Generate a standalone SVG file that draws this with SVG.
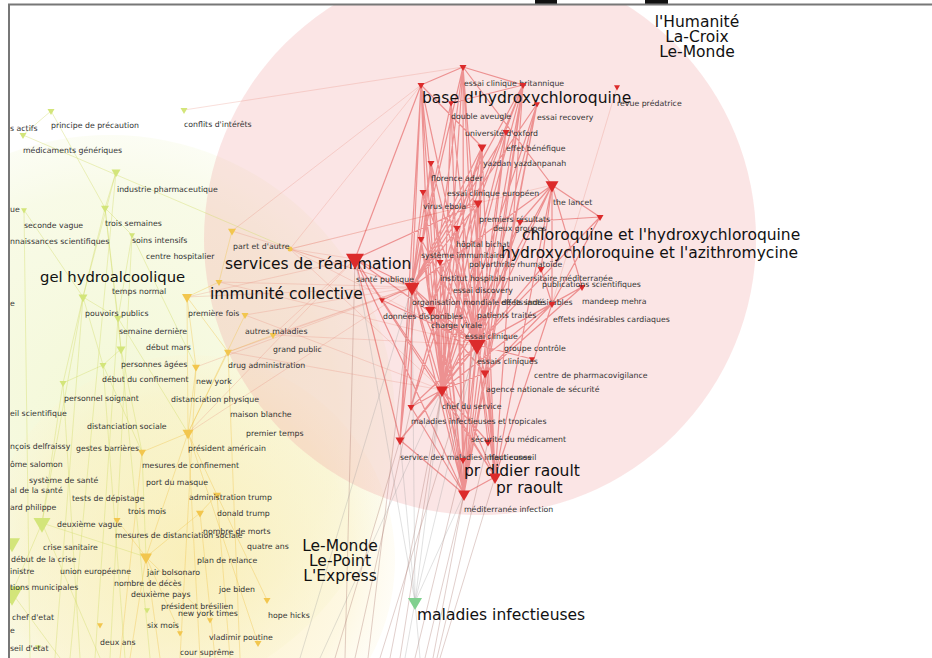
<svg xmlns="http://www.w3.org/2000/svg" xmlns:xlink="http://www.w3.org/1999/xlink" width="932" height="658" viewBox="0 0 932 658">
<style>
.lab{font-family:"DejaVu Sans",Verdana,sans-serif;font-size:7.8px;fill:#333}
.big{font-family:"DejaVu Sans",Verdana,sans-serif;font-size:15.5px;fill:#111}
.out{font-family:"DejaVu Sans",Verdana,sans-serif;font-size:15.5px;fill:#111;text-anchor:middle}
.r{fill:#dc2b2b}
.y{fill:#d3e57a}
.o{fill:#f2c64e}
.g{fill:#80d08f}
.er{fill:none;stroke:#dc2a2a;stroke-opacity:.45;stroke-width:1.2}
.ep{fill:none;stroke:#e8806e;stroke-opacity:.25;stroke-width:1}
.ey{fill:none;stroke:#d2dc6a;stroke-opacity:.4;stroke-width:1}
.eo{fill:none;stroke:#efc550;stroke-opacity:.4;stroke-width:1}
.ed{fill:none;stroke:#a8766c;stroke-opacity:.35;stroke-width:1}
.eg{fill:none;stroke:#9a9a9a;stroke-opacity:.3;stroke-width:1}
</style>
<defs>
<path id="t" d="M-1,-0.58 L1,-0.58 L0,1.15 Z"/>
<clipPath id="frame"><rect x="10" y="5" width="922" height="653"/></clipPath>
<radialGradient id="gy"><stop offset="0" stop-color="#eef5c4" stop-opacity="0.7"/><stop offset="0.8" stop-color="#f1f6cf" stop-opacity="0.5"/><stop offset="1" stop-color="#f4f8da" stop-opacity="0.3"/></radialGradient>
<radialGradient id="go"><stop offset="0" stop-color="#fbeaa8" stop-opacity="0.7"/><stop offset="0.8" stop-color="#fcefc0" stop-opacity="0.45"/><stop offset="1" stop-color="#fdf3d0" stop-opacity="0.2"/></radialGradient>
</defs>
<rect x="0" y="0" width="932" height="658" fill="#fff"/>
<rect x="535" y="0" width="22" height="4" fill="#111"/>
<rect x="645" y="0" width="23" height="4" fill="#111"/>
<g clip-path="url(#frame)">
<g id="communities">
<circle cx="110" cy="420" r="285" fill="url(#gy)"/>
<circle cx="190" cy="560" r="205" fill="url(#go)"/>
<circle cx="480" cy="239" r="276" fill="#f0a0a0" fill-opacity="0.28"/>
</g>
<g id="connectors">
<path class="ey" d="M23,135 L290,249 M51,111 L105,208 M51,111 L23,135 M116,172 L105,208 M116,172 L83,297 M105,208 L83,297 M105,208 L118,318 M105,208 L121,349 M105,208 L132,235 M132,235 L118,318 M132,235 L196,367 M24,210 L83,297 M83,297 L118,318 M83,297 L103,365 M83,297 L63,383 M118,318 L121,349 M121,349 L103,365 M103,365 L63,383 M63,383 L42,523 M83,297 L42,523 M103,365 L142,452 M121,349 L142,452 M118,318 L188,433 M42,523 L146,557 M42,523 L12,593 M142,452 L146,557 M63,383 L80,658 M103,365 L125,658 M121,349 L150,658 M83,297 L55,658 M42,523 L100,658 M12,593 L60,658 M24,210 L30,658 M116,172 L70,658 M118,318 L95,658 M132,235 L110,658"/>
<path class="eo" d="M187,297 L196,367 M187,297 L228,352 M187,297 L188,433 M187,297 L219,282 M219,282 L232,231 M228,352 L188,433 M196,367 L188,433 M188,433 L142,452 M188,433 L146,557 M188,433 L217,495 M217,495 L200,513 M200,513 L146,557 M146,557 L117,520 M146,557 L210,620 M146,557 L180,633 M188,433 L258,643 M217,495 L267,600 M146,557 L160,658 M188,433 L200,658 M217,495 L230,658 M146,557 L130,658 M196,367 L180,658 M228,352 L240,658 M142,452 L120,658 M200,513 L215,658 M245,315 L188,433 M273,335 L228,352"/>
<path class="ep" d="M184,110 L463,67 M290,249 L412,287 M290,249 L477,345 M290,249 L442,390 M290,249 L355,259 M290,249 L421,85 M290,249 L478,203 M290,249 L552,185 M232,231 L412,287 M232,231 L421,85 M219,282 L412,287 M219,282 L477,345 M245,315 L412,287 M245,315 L442,390 M273,335 L412,287 M273,335 L477,345 M273,335 L355,259 M228,352 L412,287 M228,352 L442,390 M196,367 L412,287 M188,433 L355,259 M188,433 L412,287 M187,297 L412,287 M187,297 L355,259 M617,87 L552,304"/>
<path class="er" d="M463,67 L477,345 M463,67 L442,390 M463,67 L464,494 M463,67 L412,287 M463,67 L421,85 M463,67 L523,85 M463,67 L552,185 M421,85 L477,345 M421,85 L442,390 M421,85 L412,287 M421,85 L464,494 M421,85 L430,310 M421,85 L482,147 M421,85 L355,259 M523,85 L477,345 M523,85 L485,373 M523,85 L495,477 M523,85 L442,390 M523,85 L451,103 M523,85 L478,203 M523,85 L412,287 M523,85 L464,494 M451,103 L477,345 M451,103 L442,390 M451,103 L412,287 M537,104 L477,345 M537,104 L442,390 M537,104 L485,373 M537,104 L412,287 M506,132 L477,345 M506,132 L442,390 M506,132 L464,494 M482,147 L477,345 M482,147 L442,390 M482,147 L412,287 M482,147 L464,494 M482,147 L495,477 M482,147 L430,310 M431,163 L477,345 M431,163 L442,390 M431,163 L412,287 M431,163 L400,440 M552,185 L477,345 M552,185 L442,390 M552,185 L412,287 M552,185 L600,217 M552,185 L582,287 M552,185 L552,304 M552,185 L541,269 M552,185 L495,477 M552,185 L520,222 M423,192 L477,345 M423,192 L442,390 M423,192 L412,287 M478,203 L477,345 M478,203 L442,390 M478,203 L412,287 M478,203 L464,494 M478,203 L495,477 M478,203 L355,259 M478,203 L411,407 M600,217 L477,345 M600,217 L552,304 M600,217 L520,222 M520,222 L477,345 M520,222 L442,390 M457,228 L477,345 M457,228 L442,390 M421,239 L477,345 M421,239 L464,494 M440,262 L477,345 M440,262 L442,390 M541,269 L477,345 M541,269 L552,304 M412,287 L477,345 M412,287 L442,390 M412,287 L464,494 M412,287 L495,477 M412,287 L355,259 M412,287 L382,300 M412,287 L400,440 M412,287 L411,407 M412,287 L485,373 M582,287 L477,345 M582,287 L552,304 M582,287 L485,373 M382,300 L477,345 M552,304 L477,345 M552,304 L442,390 M552,304 L485,373 M552,304 L495,477 M430,310 L477,345 M430,310 L442,390 M477,345 L442,390 M477,345 L464,494 M477,345 L495,477 M477,345 L485,373 M477,345 L400,440 M477,345 L411,407 M477,345 L355,259 M477,345 L532,359 M485,373 L442,390 M485,373 L495,477 M485,373 L464,494 M442,390 L464,494 M442,390 L495,477 M442,390 L400,440 M442,390 L411,407 M442,390 L355,259 M411,407 L464,494 M400,440 L464,494 M488,442 L442,390 M488,442 L477,345 M463,460 L477,345 M463,460 L442,390 M495,477 L464,494 M355,259 L464,494 M355,259 L400,440 M355,259 L495,477 M463,67 L430,310 M421,85 L400,440 M523,85 L430,310 M482,147 L411,407 M431,163 L464,494 M451,103 L464,494 M506,132 L412,287 M423,192 L464,494 M457,228 L464,494 M421,239 L442,390 M440,262 L464,494 M537,104 L464,494 M463,67 L495,477"/>
<path class="ed" d="M400,440 L335,658 M411,407 L355,658 M442,390 L390,658 M464,494 L425,658 M464,494 L433,658 M495,477 L440,658 M463,460 L415,658 M477,345 L380,658 M412,287 L368,658 M355,259 L345,658 M442,390 L400,658 M488,442 L437,658"/>
<path class="eg" d="M415,602 L412,287 M415,602 L442,390 M415,602 L400,440 M415,602 L355,259 M415,602 L477,345 M415,602 L464,494 M415,602 L405,658 M415,602 L420,658 M412,287 L300,658 M442,390 L320,658"/>
</g>
<g id="n-principe"><use href="#t" class="y" transform="translate(51,111) scale(3.5)"/><text class="lab" x="51" y="128">principe de précaution</text></g>
<g id="n-conflits"><use href="#t" class="y" transform="translate(184,110) scale(3.5)"/><text class="lab" x="184" y="127">conflits d'intérêts</text></g>
<g id="n-actifs"><text class="lab" x="10" y="131">s actifs</text></g>
<g id="n-medicaments"><use href="#t" class="y" transform="translate(23,135) scale(3.5)"/><text class="lab" x="23" y="153">médicaments génériques</text></g>
<g id="n-industrie"><use href="#t" class="y" transform="translate(116,172) scale(4.5)"/><text class="lab" x="117" y="192">industrie pharmaceutique</text></g>
<g id="n-ue"><use href="#t" class="y" transform="translate(24,210) scale(3)"/><text class="lab" x="10" y="212">ue</text></g>
<g id="n-trois-semaines"><use href="#t" class="y" transform="translate(105,208) scale(4)"/><text class="lab" x="105" y="226">trois semaines</text></g>
<g id="n-seconde-vague"><text class="lab" x="24" y="228">seconde vague</text></g>
<g id="n-connaissances"><text class="lab" x="10" y="244">nnaissances scientifiques</text></g>
<g id="n-soins"><use href="#t" class="y" transform="translate(132,235) scale(3)"/><text class="lab" x="132" y="243">soins intensifs</text></g>
<g id="n-centre-hosp"><text class="lab" x="146" y="259">centre hospitalier</text></g>
<g id="n-part"><use href="#t" class="o" transform="translate(232,231) scale(4)"/><circle cx="290" cy="249" r="2.5" class="o"/><text class="lab" x="233" y="249">part et d'autre</text></g>
<g id="n-services"><text class="big" x="225" y="269">services de réanimation</text></g>
<g id="n-gel"><text class="big" x="40" y="282" style="font-size:14.8px">gel hydroalcoolique</text></g>
<g id="n-temps-normal"><use href="#t" class="y" transform="translate(83,297) scale(4.5)"/><text class="lab" x="112" y="294">temps normal</text></g>
<g id="n-immunite"><use href="#t" class="o" transform="translate(219,282) scale(3.5)"/><use href="#t" class="o" transform="translate(187,297) scale(5)"/><text class="big" x="210" y="299">immunité collective</text></g>
<g id="n-e1"><text class="lab" x="10" y="306">e</text></g>
<g id="n-pouvoirs"><use href="#t" class="y" transform="translate(118,318) scale(4)"/><text class="lab" x="85" y="316">pouvoirs publics</text></g>
<g id="n-premiere-fois"><use href="#t" class="o" transform="translate(245,315) scale(3.5)"/><text class="lab" x="188" y="316">première fois</text></g>
<g id="n-semaine"><text class="lab" x="119" y="334">semaine dernière</text></g>
<g id="n-autres"><use href="#t" class="o" transform="translate(273,335) scale(3.5)"/><text class="lab" x="245" y="334">autres maladies</text></g>
<g id="n-debut-mars"><use href="#t" class="y" transform="translate(121,349) scale(4.5)"/><text class="lab" x="146" y="350">début mars</text></g>
<g id="n-grand-public"><text class="lab" x="273" y="352">grand public</text></g>
<g id="n-personnes"><use href="#t" class="y" transform="translate(103,365) scale(3.5)"/><text class="lab" x="121" y="367">personnes âgées</text></g>
<g id="n-drug"><use href="#t" class="o" transform="translate(228,352) scale(4)"/><text class="lab" x="228" y="368">drug administration</text></g>
<g id="n-debut-conf"><use href="#t" class="o" transform="translate(196,367) scale(4)"/><text class="lab" x="102" y="382">début du confinement</text></g>
<g id="n-new-york"><text class="lab" x="196" y="384">new york</text></g>
<g id="n-personnel"><use href="#t" class="y" transform="translate(63,383) scale(3.5)"/><text class="lab" x="64" y="401">personnel soignant</text></g>
<g id="n-dist-phys"><text class="lab" x="171" y="402">distanciation physique</text></g>
<g id="n-conseil-sci"><text class="lab" x="10" y="416">eil scientifique</text></g>
<g id="n-maison"><text class="lab" x="230" y="417">maison blanche</text></g>
<g id="n-dist-soc"><text class="lab" x="87" y="429">distanciation sociale</text></g>
<g id="n-premier-temps"><text class="lab" x="246" y="436">premier temps</text></g>
<g id="n-delfraissy"><text class="lab" x="10" y="449">nçois delfraissy</text></g>
<g id="n-gestes"><text class="lab" x="76" y="451">gestes barrières</text></g>
<g id="n-president-am"><use href="#t" class="o" transform="translate(188,433) scale(5.5)"/><text class="lab" x="188" y="451">président américain</text></g>
<g id="n-salomon"><text class="lab" x="10" y="467">ôme salomon</text></g>
<g id="n-mesures-conf"><use href="#t" class="o" transform="translate(142,452) scale(4)"/><text class="lab" x="142" y="468">mesures de confinement</text></g>
<g id="n-systeme-sante"><text class="lab" x="29" y="483">système de santé</text></g>
<g id="n-port-masque"><text class="lab" x="146" y="485">port du masque</text></g>
<g id="n-dg-sante"><text class="lab" x="10" y="493">al de la santé</text></g>
<g id="n-tests"><text class="lab" x="72" y="501">tests de dépistage</text></g>
<g id="n-admin-trump"><use href="#t" class="o" transform="translate(217,495) scale(4)"/><text class="lab" x="189" y="500">administration trump</text></g>
<g id="n-philippe"><text class="lab" x="10" y="510">ard philippe</text></g>
<g id="n-trois-mois"><use href="#t" class="o" transform="translate(117,520) scale(3.5)"/><text class="lab" x="128" y="514">trois mois</text></g>
<g id="n-donald"><use href="#t" class="o" transform="translate(200,513) scale(4)"/><text class="lab" x="217" y="516">donald trump</text></g>
<g id="n-deuxieme-vague"><use href="#t" class="y" transform="translate(42,523) scale(8.5)"/><text class="lab" x="57" y="527">deuxième vague</text></g>
<g id="n-mesures-dist"><text class="lab" x="115" y="538">mesures de distanciation sociale</text></g>
<g id="n-nombre-morts"><text class="lab" x="203" y="534">nombre de morts</text></g>
<g id="n-crise"><use href="#t" class="y" transform="translate(12,543) scale(8)"/><text class="lab" x="43" y="550">crise sanitaire</text></g>
<g id="n-quatre-ans"><text class="lab" x="247" y="549">quatre ans</text></g>
<g id="n-debut-crise"><use href="#t" class="o" transform="translate(146,557) scale(6)"/><text class="lab" x="11" y="562">début de la crise</text></g>
<g id="n-plan"><text class="lab" x="197" y="563">plan de relance</text></g>
<g id="n-ministre"><text class="lab" x="10" y="574">inistre</text></g>
<g id="n-union"><text class="lab" x="60" y="574">union européenne</text></g>
<g id="n-bolsonaro"><text class="lab" x="147" y="575">jair bolsonaro</text></g>
<g id="n-municipales"><use href="#t" class="y" transform="translate(12,593) scale(11)"/><text class="lab" x="10" y="590">tions municipales</text></g>
<g id="n-deces"><text class="lab" x="114" y="586">nombre de décès</text></g>
<g id="n-deuxieme-pays"><text class="lab" x="131" y="597">deuxième pays</text></g>
<g id="n-biden"><use href="#t" class="o" transform="translate(267,600) scale(3.5)"/><text class="lab" x="219" y="592">joe biden</text></g>
<g id="n-bresilien"><use href="#t" class="y" transform="translate(147,610) scale(3)"/><text class="lab" x="161" y="609">président brésilien</text></g>
<g id="n-nyt"><use href="#t" class="o" transform="translate(210,620) scale(3)"/><text class="lab" x="178" y="616">new york times</text></g>
<g id="n-hope"><text class="lab" x="268" y="618">hope hicks</text></g>
<g id="n-chef-etat"><text class="lab" x="12" y="620">chef d'etat</text></g>
<g id="n-six-mois"><use href="#t" class="o" transform="translate(100,625) scale(3)"/><text class="lab" x="147" y="628">six mois</text></g>
<g id="n-e2"><text class="lab" x="10" y="633">e</text></g>
<g id="n-poutine"><use href="#t" class="o" transform="translate(180,633) scale(3)"/><text class="lab" x="209" y="640">vladimir poutine</text></g>
<g id="n-deux-ans"><use href="#t" class="o" transform="translate(258,643) scale(3.5)"/><text class="lab" x="100" y="645">deux ans</text></g>
<g id="n-conseil-etat"><use href="#t" class="y" transform="translate(38,647) scale(3)"/><text class="lab" x="10" y="651">seil d'etat</text></g>
<g id="n-cour"><text class="lab" x="180" y="655">cour suprême</text></g>
<g id="n-britannique"><use href="#t" class="r" transform="translate(463,67) scale(3.5)"/><text class="lab" x="464" y="86">essai clinique britannique</text></g>
<g id="n-base"><use href="#t" class="r" transform="translate(421,85) scale(3.5)"/><use href="#t" class="r" transform="translate(523,85) scale(3.5)"/><text class="big" x="422" y="103">base d'hydroxychloroquine</text></g>
<g id="n-revue"><use href="#t" class="r" transform="translate(617,87) scale(3)"/><text class="lab" x="617" y="106">revue prédatrice</text></g>
<g id="n-double"><use href="#t" class="r" transform="translate(451,103) scale(3)"/><text class="lab" x="451" y="119">double aveugle</text></g>
<g id="n-recovery"><use href="#t" class="r" transform="translate(537,104) scale(3)"/><text class="lab" x="537" y="120">essai recovery</text></g>
<g id="n-oxford"><text class="lab" x="465" y="136">université d'oxford</text></g>
<g id="n-benefique"><use href="#t" class="r" transform="translate(506,132) scale(3.5)"/><text class="lab" x="506" y="151">effet bénéfique</text></g>
<g id="n-yazdan"><use href="#t" class="r" transform="translate(482,147) scale(4.5)"/><text class="lab" x="483" y="166">yazdan yazdanpanah</text></g>
<g id="n-ader"><use href="#t" class="r" transform="translate(431,163) scale(3.5)"/><text class="lab" x="431" y="181">florence ader</text></g>
<g id="n-lancet"><use href="#t" class="r" transform="translate(552,185) scale(6.5)"/><text class="lab" x="553" y="205">the lancet</text></g>
<g id="n-europeen"><use href="#t" class="r" transform="translate(478,203) scale(4.5)"/><text class="lab" x="447" y="196">essai clinique européen</text></g>
<g id="n-ebola"><use href="#t" class="r" transform="translate(423,192) scale(3.5)"/><text class="lab" x="423" y="209">virus ebola</text></g>
<g id="n-x600"><use href="#t" class="r" transform="translate(600,217) scale(3.5)"/></g>
<g id="n-premiers"><text class="lab" x="479" y="222">premiers résultats</text></g>
<g id="n-deux-groupes"><use href="#t" class="r" transform="translate(520,222) scale(3.5)"/><text class="lab" x="493" y="231">deux groupes</text></g>
<g id="n-bichat"><use href="#t" class="r" transform="translate(457,228) scale(3.5)"/><text class="lab" x="456" y="247">hôpital bichat</text></g>
<g id="n-immunitaire"><use href="#t" class="r" transform="translate(421,239) scale(3.5)"/><text class="lab" x="421" y="258">système immunitaire</text></g>
<g id="n-polyarthrite"><use href="#t" class="r" transform="translate(440,262) scale(3.5)"/><use href="#t" class="r" transform="translate(541,269) scale(3.5)"/><text class="lab" x="469" y="267">polyarthrite rhumatoïde</text></g>
<g id="n-chloroquine"><text class="big" x="522" y="240">chloroquine et l'hydroxychloroquine</text></g>
<g id="n-azithro"><text class="big" x="501" y="258">hydroxychloroquine et l'azithromycine</text></g>
<g id="n-sante-publique"><use href="#t" class="r" transform="translate(355,259) scale(9)"/><text class="lab" x="356" y="282">santé publique</text></g>
<g id="n-ihu"><text class="lab" x="440" y="281">institut hospitalo-universitaire méditerranée</text></g>
<g id="n-publications"><use href="#t" class="r" transform="translate(582,287) scale(3.5)"/><text class="lab" x="542" y="287">publications scientifiques</text></g>
<g id="n-oms"><use href="#t" class="r" transform="translate(412,287) scale(7.5)"/><text class="lab" x="412" y="305">organisation mondiale de la santé</text></g>
<g id="n-discovery"><text class="lab" x="453" y="293">essai discovery</text></g>
<g id="n-effets"><text class="lab" x="501" y="305">effets indésirables</text></g>
<g id="n-mehra"><use href="#t" class="r" transform="translate(552,304) scale(3.5)"/><text class="lab" x="582" y="304">mandeep mehra</text></g>
<g id="n-donnees"><use href="#t" class="r" transform="translate(382,300) scale(3)"/><text class="lab" x="383" y="319">données disponibles</text></g>
<g id="n-patients"><text class="lab" x="477" y="318">patients traités</text></g>
<g id="n-cardiaques"><text class="lab" x="553" y="322">effets indésirables cardiaques</text></g>
<g id="n-charge"><use href="#t" class="r" transform="translate(430,310) scale(5)"/><text class="lab" x="431" y="328">charge virale</text></g>
<g id="n-essai-clinique"><text class="lab" x="465" y="339">essai clinique</text></g>
<g id="n-groupe"><use href="#t" class="r" transform="translate(477,345) scale(8.5)"/><text class="lab" x="504" y="351">groupe contrôle</text></g>
<g id="n-essais"><use href="#t" class="r" transform="translate(532,359) scale(3)"/><text class="lab" x="477" y="364">essais cliniques</text></g>
<g id="n-pharmaco"><use href="#t" class="r" transform="translate(485,373) scale(4.5)"/><text class="lab" x="534" y="378">centre de pharmacovigilance</text></g>
<g id="n-agence"><text class="lab" x="486" y="392">agence nationale de sécurité</text></g>
<g id="n-chef-service"><use href="#t" class="r" transform="translate(442,390) scale(6)"/><text class="lab" x="442" y="409">chef du service</text></g>
<g id="n-tropicales"><use href="#t" class="r" transform="translate(411,407) scale(3.5)"/><text class="lab" x="411" y="424">maladies infectieuses et tropicales</text></g>
<g id="n-securite"><use href="#t" class="r" transform="translate(488,442) scale(4)"/><text class="lab" x="471" y="442">sécurité du médicament</text></g>
<g id="n-service-mi"><use href="#t" class="r" transform="translate(400,440) scale(4.5)"/><text class="lab" x="400" y="460">service des maladies infectieuses</text></g>
<g id="n-haut-conseil"><text class="lab" x="489" y="460">haut conseil</text></g>
<g id="n-didier"><use href="#t" class="r" transform="translate(463,460) scale(3.5)"/><text class="big" x="464" y="476">pr didier raoult</text></g>
<g id="n-raoult"><use href="#t" class="r" transform="translate(495,477) scale(6)"/><text class="big" x="496" y="493">pr raoult</text></g>
<g id="n-mediterranee"><use href="#t" class="r" transform="translate(464,494) scale(6)"/><text class="lab" x="464" y="512">méditerranée infection</text></g>
<g id="n-maladies"><use href="#t" class="g" transform="translate(415,602) scale(7)"/><text class="big" x="417" y="620">maladies infectieuses</text></g>
<g id="n-outlets-1"><text class="out" x="697" y="27">l'Humanité</text><text class="out" x="697" y="42">La-Croix</text><text class="out" x="697" y="57">Le-Monde</text></g>
<g id="n-outlets-2"><text class="out" x="340" y="551">Le-Monde</text><text class="out" x="340" y="566">Le-Point</text><text class="out" x="340" y="581">L'Express</text></g>
</g>
<path d="M9,658 V4.5 H932" fill="none" stroke="#777" stroke-width="2"/>
</svg>
